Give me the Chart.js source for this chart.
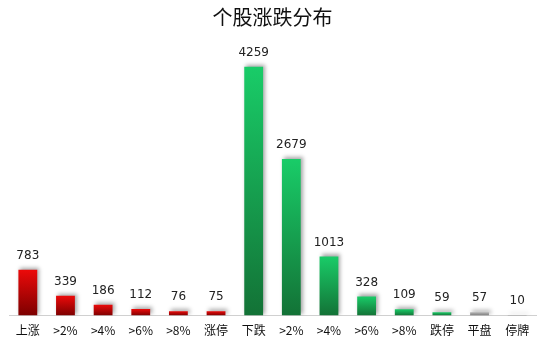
<!DOCTYPE html>
<html><head><meta charset="utf-8">
<script src="https://cdn.jsdelivr.net/npm/chart.js@4/dist/chart.umd.min.js"></script>
<style>html,body{margin:0;padding:0;background:#fff}#wrap{width:540px;height:345px}</style>
</head><body><div id="wrap"><canvas id="c" width="540" height="345"></canvas></div>
<script>
const categories = ['上涨','>2%','>4%','>6%','>8%','涨停','下跌','>2%','>4%','>6%','>8%','跌停','平盘','停牌'];
const values = [783,339,186,112,76,75,4259,2679,1013,328,109,59,57,10];
const groups = ['up','up','up','up','up','up','down','down','down','down','down','down','flat','flat'];
const palette = {up:['#ec0a0a','#7c0000'], down:['#19cc68','#137236'], flat:['#b4b4b4','#7a7a7a']};

const labelPlugin = {
  id:'vals',
  afterDatasetsDraw(chart){
    const ctx = chart.ctx; const meta = chart.getDatasetMeta(0);
    ctx.save(); ctx.shadowColor='transparent';
    ctx.font = '12px "DejaVu Sans", sans-serif'; ctx.fillStyle='#222'; ctx.textAlign='center'; ctx.textBaseline='bottom';
    meta.data.forEach((b,i)=>{ ctx.fillText(String(values[i]), b.x, b.y-8); });
    ctx.restore();
  }
};
const shadowPlugin = {
  id:'shadow',
  beforeDatasetsDraw(chart){ const c=chart.ctx; c.save(); c.shadowColor='rgba(0,0,0,0.35)'; c.shadowBlur=4; c.shadowOffsetX=2; c.shadowOffsetY=-2; },
  afterDatasetsDraw(chart){ chart.ctx.restore(); }
};

new Chart(document.getElementById('c'), {
  type:'bar',
  data:{ labels:categories, datasets:[{ data:values,
    backgroundColor(ctx){
      const ch = ctx.chart; const a = ch.chartArea; if(!a) return '#c00';
      const p = palette[groups[ctx.dataIndex]];
      const y0 = ch.scales.y.getPixelForValue(values[ctx.dataIndex]);
      const gr = ch.ctx.createLinearGradient(0, y0, 0, a.bottom);
      gr.addColorStop(0,p[0]); gr.addColorStop(1,p[1]); return gr;
    },
    borderWidth:0, barPercentage:0.5, categoryPercentage:1.0 }]},
  plugins:[shadowPlugin,labelPlugin],
  options:{
    responsive:false, animation:false,
    layout:{padding:{left:9,right:4,top:0,bottom:7}},
    plugins:{ legend:{display:false}, tooltip:{enabled:false},
      title:{display:true,text:'个股涨跌分布',color:'#111',font:{family:'"Noto Sans CJK SC"',size:20,weight:'normal'},padding:{top:5,bottom:12}} },
    scales:{
      x:{ grid:{display:false}, border:{display:true,color:'#d0d0d0'},
        ticks:{color:'#111',font:{family:'"Noto Sans CJK SC", "DejaVu Sans"',size:12},padding:0,maxRotation:0,autoSkip:false} },
      y:{ display:false, min:0, max:4700 }
    }
  }
});
</script></body></html>
